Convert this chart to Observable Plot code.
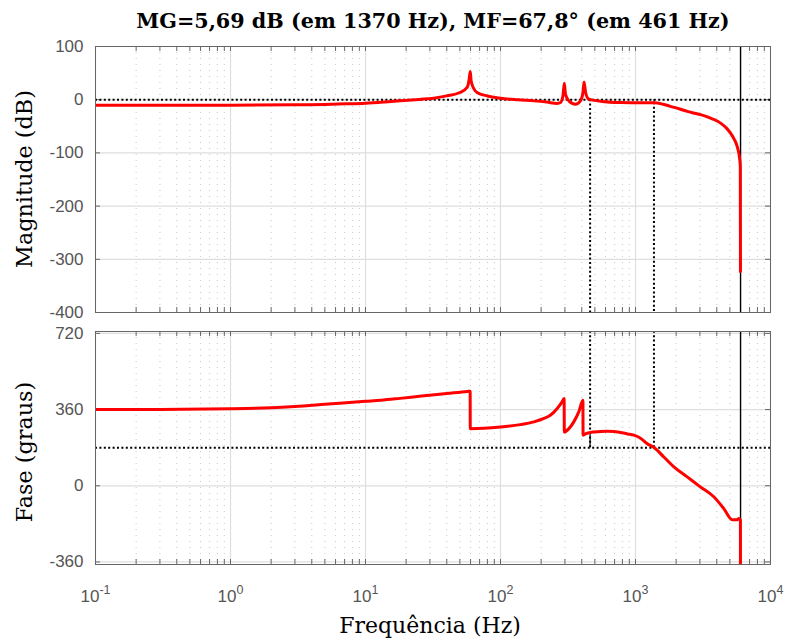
<!DOCTYPE html>
<html><head><meta charset="utf-8">
<script src="https://cdn.jsdelivr.net/npm/d3@7"></script>
<script src="https://cdn.jsdelivr.net/npm/@observablehq/plot@0.6"></script>
<style>
body{margin:0;background:#fff;}
#wrap{position:relative;width:787px;height:639px;overflow:hidden;background:#fff;}
#wrap svg{position:absolute;left:0;background:none;overflow:visible;}
.lbl{position:absolute;font-family:"DejaVu Serif",serif;color:#000;white-space:nowrap;transform:translate(-50%,-50%);line-height:1;}
.rot{transform:translate(-50%,-50%) rotate(-90deg);}
</style></head><body><div id="wrap"></div>
<script>
// ---- data ----
const titleText = "MG=5,69 dB (em 1370 Hz), MF=67,8° (em 461 Hz)";
const magLabel = "Magnitude (dB)";
const phaseLabel = "Fase (graus)";
const freqLabel = "Frequência (Hz)";

const xTicks = [0.1, 1, 10, 100, 1000, 10000];
const xTickLabels = ["10^-1", "10^0", "10^1", "10^2", "10^3", "10^4"];
const magTicks = [-400, -300, -200, -100, 0, 100];
const magTickLabels = ["-400", "-300", "-200", "-100", "0", "100"];
const phaseTicks = [-360, 0, 360, 720];
const phaseTickLabels = ["-360", "0", "360", "720"];

const magFreq = [0.1, 0.3, 1, 3, 5, 7.1, 10, 14, 18, 25, 32, 40, 50, 56.6, 58.6, 59.7, 60.6, 62.8, 67, 80, 100, 135, 177, 220, 263, 278, 290, 297, 303, 321, 359, 391, 408, 416, 427, 451, 550, 774, 1000, 1370, 1600, 1815, 2100, 2416, 2800, 3210, 3700, 4266, 4700, 5058, 5400, 5620, 5800, 5880, 5975, 5990];
const magDb   = [-10.5, -10.5, -10.3, -9.6, -8.8, -7.8, -6.5, -4.2, -2.2, 0.5, 2.8, 7.2, 13.5, 23, 38.6, 53, 35, 23, 13.5, 7, 2.8, -0.2, -2.2, -4.5, -7, -5.3, 7, 31, 10, -2.2, -8.5, -2.2, 13.5, 33.5, 13.5, 1, -2.8, -5.3, -5.6, -5.69, -8.5, -12.6, -17, -22, -26, -30, -36, -44, -53, -63, -75, -85, -98, -107, -125, -323];

const phaseFreq = [0.1, 0.3, 1, 2, 3, 5, 10, 13, 18, 26, 40, 57, 59.6, 59.7, 100, 140, 177, 210, 234, 263, 285, 296, 297, 321, 349, 380, 408, 409, 430, 464, 491, 617, 692, 874, 973, 1089, 1222, 1370, 1622, 1925, 2416, 3020, 3800, 4510, 5200, 5660, 5830, 5985, 5990];
const phaseDeg  = [360, 361, 364, 369, 375, 385, 399, 404, 413, 424, 436, 446, 447, 270, 278, 289, 302, 318, 333, 365, 395, 412, 254, 270, 302, 349, 404, 239, 246, 252, 254, 258, 257, 245, 239, 225, 199, 181, 136, 89, 42, -5, -52, -108, -160, -160, -155, -162, -420];

const gmFreq = 1370, gmDb = -5.69;     // margem de ganho
const pmFreq = 461, pmPhase = 247.8;   // margem de fase
const nyqFreq = 6000;

// ---- styling ----
const frameColor = "#666";
const gridColor = "#dedede";
const minorColor = "#c8c8c8";
const tickText = "#555";
const FW = 787 - 95 - 17;
const minorTicks = d3.range(-1, 4).flatMap(e => d3.range(2, 10).map(k => k * Math.pow(10, e)));
const allX = xTicks.concat(minorTicks);

function common(FH, yTicks, yLabels) {
  return [
    Plot.ruleX(minorTicks, {stroke: minorColor, strokeDasharray: "1,5", strokeWidth: 1}),
    Plot.ruleX(xTicks, {stroke: gridColor, strokeWidth: 1.2}),
    Plot.ruleY(yTicks, {stroke: gridColor, strokeWidth: 1.2}),
    Plot.ruleX(allX, {stroke: frameColor, insetBottom: FH - 5}),
    Plot.ruleX(allX, {stroke: frameColor, insetTop: FH - 5}),
    Plot.ruleY(yTicks, {stroke: frameColor, insetRight: FW - 5}),
    Plot.ruleY(yTicks, {stroke: frameColor, insetLeft: FW - 5}),
    Plot.axisY(yTicks, {anchor: "left", tickSize: 0, tickPadding: 12, label: null,
      tickFormat: d => yLabels[yTicks.indexOf(d)], fontSize: 17, fill: tickText,
      fontFamily: "Liberation Sans, Arial, sans-serif"})
  ];
}
const dotted = {stroke: "#000", strokeWidth: 2, strokeDasharray: "2,2.4"};
const redLine = {stroke: "#ff0000", strokeWidth: 3, clip: true, curve: "monotone-x"};

const magPlot = Plot.plot({
  width: 787, height: 330,
  marginLeft: 95, marginRight: 17, marginTop: 46, marginBottom: 18,
  x: {type: "log", domain: [0.1, 1e4], axis: null},
  y: {domain: [-400, 100]},
  marks: [
    ...common(266, magTicks, magTickLabels),
    Plot.ruleY([0], dotted),
    Plot.ruleX([pmFreq], {...dotted, y1: 0, y2: -400}),
    Plot.ruleX([gmFreq], {...dotted, y1: gmDb, y2: -400}),
    Plot.ruleX([gmFreq], {stroke: "#000", y1: 0, y2: gmDb}),
    Plot.ruleX([nyqFreq], {stroke: "#000", strokeWidth: 1.4}),
    Plot.line(magFreq.map((f, i) => [f, magDb[i]]), redLine),
    Plot.frame({stroke: frameColor})
  ]
});

const phPlot = Plot.plot({
  width: 787, height: 319,
  marginLeft: 95, marginRight: 17, marginTop: 11, marginBottom: 75,
  x: {type: "log", domain: [0.1, 1e4]},
  y: {domain: [-372, 729]},
  marks: [
    ...common(233, phaseTicks, phaseTickLabels),
    Plot.axisX(xTicks, {anchor: "bottom", tickSize: 0, tickPadding: 25, label: null,
      tickFormat: d => xTickLabels[xTicks.indexOf(d)], fontSize: 17, fill: tickText,
      fontFamily: "Liberation Sans, Arial, sans-serif"}),
    Plot.ruleY([180], dotted),
    Plot.ruleX([pmFreq, gmFreq], {...dotted, y1: 180, y2: 729}),
    Plot.ruleX([pmFreq], {stroke: "#000", strokeWidth: 1.2, y1: pmPhase, y2: 180}),
    Plot.ruleX([nyqFreq], {stroke: "#000", strokeWidth: 1.4}),
    Plot.line(phaseFreq.map((f, i) => [f, phaseDeg[i]]), redLine),
    Plot.frame({stroke: frameColor})
  ]
});

// superscript exponents in x tick labels
d3.select(phPlot).selectAll('[aria-label="x-axis tick label"] text').each(function() {
  const s = this.textContent.split("^");
  const t = d3.select(this);
  t.text(null);
  t.append("tspan").text(s[0]);
  t.append("tspan").attr("font-size", 12.5).attr("dy", -8).text(s[1]);
});

const wrap = document.getElementById("wrap");
magPlot.style.top = "0px";
phPlot.style.top = "320px";
wrap.appendChild(phPlot);
wrap.appendChild(magPlot);

function label(text, x, y, size, extra) {
  const d = document.createElement("div");
  d.className = "lbl" + (extra.rot ? " rot" : "");
  d.textContent = text;
  d.style.left = x + "px";
  d.style.top = y + "px";
  d.style.fontSize = size + "px";
  if (extra.bold) d.style.fontWeight = "bold";
  wrap.appendChild(d);
}
label(titleText, 433, 21, 20.7, {bold: true});
label(magLabel, 24, 179, 22.3, {rot: true});
label(phaseLabel, 24, 452, 22.3, {rot: true});
label(freqLabel, 430, 626, 22, {});
</script></body></html>
